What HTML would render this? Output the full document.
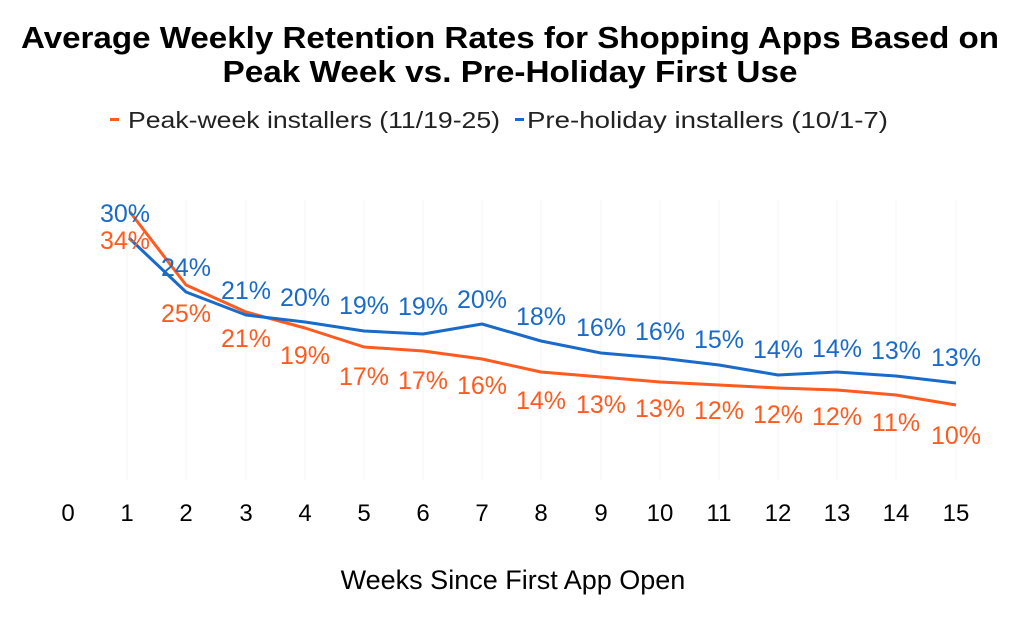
<!DOCTYPE html>
<html><head><meta charset="utf-8"><style>
html,body{margin:0;padding:0;background:#fff;}
svg{display:block;font-family:"Liberation Sans",Arial,sans-serif;}
</style></head><body>
<svg width="1024" height="628" viewBox="0 0 1024 628" xmlns="http://www.w3.org/2000/svg">
<rect width="1024" height="628" fill="#fff"/>
<g font-weight="bold" font-size="31" fill="#000" text-anchor="middle">
<text x="510" y="48" textLength="978" lengthAdjust="spacingAndGlyphs">Average Weekly Retention Rates for Shopping Apps Based on</text>
<text x="510" y="82" textLength="575" lengthAdjust="spacingAndGlyphs">Peak Week vs. Pre-Holiday First Use</text>
</g>
<g font-size="23" fill="#222">
<rect x="110" y="118" width="9" height="3" fill="#ff5a1f"/>
<text x="128" y="128" textLength="372" lengthAdjust="spacingAndGlyphs">Peak-week installers (11/19-25)</text>
<rect x="515" y="118" width="9" height="3" fill="#1a6ac9"/>
<text x="527" y="128" textLength="361" lengthAdjust="spacingAndGlyphs">Pre-holiday installers (10/1-7)</text>
</g>
<g stroke="#f6f6f6" stroke-width="1">
<line x1="127" y1="200" x2="127" y2="480"/><line x1="186" y1="200" x2="186" y2="480"/><line x1="246" y1="200" x2="246" y2="480"/><line x1="305" y1="200" x2="305" y2="480"/><line x1="364" y1="200" x2="364" y2="480"/><line x1="423" y1="200" x2="423" y2="480"/><line x1="482" y1="200" x2="482" y2="480"/><line x1="541" y1="200" x2="541" y2="480"/><line x1="601" y1="200" x2="601" y2="480"/><line x1="660" y1="200" x2="660" y2="480"/><line x1="719" y1="200" x2="719" y2="480"/><line x1="778" y1="200" x2="778" y2="480"/><line x1="837" y1="200" x2="837" y2="480"/><line x1="896" y1="200" x2="896" y2="480"/><line x1="956" y1="200" x2="956" y2="480"/>
</g>
<polyline fill="none" stroke="#ff5a1f" stroke-width="3" stroke-linejoin="round" points="130,212 186,285 246,312 305,328 364,347 423,351 482,359 541,372 601,377 660,382 719,385 778,388 837,390 896,395 956,405"/>
<polyline fill="none" stroke="#1a6ac9" stroke-width="3" stroke-linejoin="round" points="129,238 186,292 246,315 305,322 364,331 423,334 482,324 541,341 601,353 660,358 719,365 778,375 837,372 896,376 956,383"/>
<g font-size="25" fill="#1a6ac9" text-anchor="middle">
<text x="125" y="222">30%</text><text x="186" y="276">24%</text><text x="246" y="299">21%</text><text x="305" y="306">20%</text><text x="364" y="314">19%</text><text x="423" y="315">19%</text><text x="482" y="308">20%</text><text x="541" y="325">18%</text><text x="601" y="336">16%</text><text x="660" y="340">16%</text><text x="719" y="348">15%</text><text x="778" y="358">14%</text><text x="837" y="357">14%</text><text x="896" y="359">13%</text><text x="956" y="366">13%</text>
</g>
<g font-size="25" fill="#ff5a1f" text-anchor="middle">
<text x="125" y="249">34%</text><text x="186" y="322">25%</text><text x="246" y="347">21%</text><text x="305" y="364">19%</text><text x="364" y="385">17%</text><text x="423" y="389">17%</text><text x="482" y="394">16%</text><text x="541" y="409">14%</text><text x="601" y="413">13%</text><text x="660" y="417">13%</text><text x="719" y="419">12%</text><text x="778" y="423">12%</text><text x="837" y="425">12%</text><text x="896" y="431">11%</text><text x="956" y="444">10%</text>
</g>
<g font-size="24" fill="#000" text-anchor="middle">
<text x="68" y="521">0</text><text x="127" y="521">1</text><text x="186" y="521">2</text><text x="246" y="521">3</text><text x="305" y="521">4</text><text x="364" y="521">5</text><text x="423" y="521">6</text><text x="482" y="521">7</text><text x="541" y="521">8</text><text x="601" y="521">9</text><text x="660" y="521">10</text><text x="719" y="521">11</text><text x="778" y="521">12</text><text x="837" y="521">13</text><text x="896" y="521">14</text><text x="956" y="521">15</text>
</g>
<text x="513" y="589" font-size="27" fill="#000" text-anchor="middle">Weeks Since First App Open</text>
</svg>
</body></html>
